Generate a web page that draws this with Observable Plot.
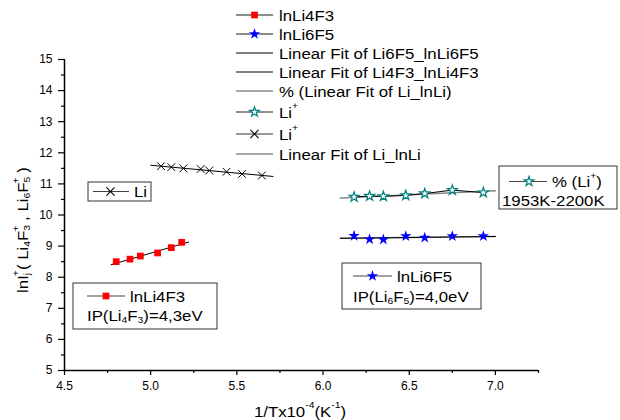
<!DOCTYPE html>
<html><head><meta charset="utf-8">
<script src="https://cdn.jsdelivr.net/npm/d3@7"></script>
<script src="https://cdn.jsdelivr.net/npm/@observablehq/plot@0.6"></script>
<style>body{margin:0;background:#fff}</style>
</head><body><div id="chart"></div>
<script>
// ---- data ----
const li4f3X = [4.80, 4.88, 4.94, 5.04, 5.12, 5.18];
const li4f3Y = [8.50, 8.58, 8.68, 8.78, 8.95, 9.12];
const li6f5X = [6.18, 6.27, 6.35, 6.48, 6.59, 6.75, 6.93];
const li6f5Y = [9.33, 9.22, 9.21, 9.32, 9.27, 9.32, 9.32];
const liPlusX = [6.18, 6.27, 6.35, 6.48, 6.59, 6.75, 6.93];
const liPlusY = [10.58, 10.61, 10.60, 10.63, 10.69, 10.80, 10.72];
const liX = [5.06, 5.12, 5.19, 5.29, 5.34, 5.44, 5.53, 5.645];
const liY = [11.57, 11.54, 11.50, 11.48, 11.43, 11.39, 11.32, 11.27];
// linear-fit end points
const fitLi4F3X = [4.77, 5.22], fitLi4F3Y = [8.40, 9.13];
const fitLiX = [5.00, 5.71], fitLiY = [11.60, 11.24];
const fitLiPlusX = [6.10, 7.00], fitLiPlusY = [10.55, 10.78];
const fitLi6F5X = [6.10, 7.00], fitLi6F5Y = [9.25, 9.31];
// ticks
const xMajor = [4.5, 5.0, 5.5, 6.0, 6.5, 7.0];
const xMinor = [4.75, 5.25, 5.75, 6.25, 6.75, 7.25];
const yMajor = [5, 6, 7, 8, 9, 10, 11, 12, 13, 14, 15];
const yMinor = [5.5, 6.5, 7.5, 8.5, 9.5, 10.5, 11.5, 12.5, 13.5, 14.5];

const pts = (xs, ys) => xs.map((x, i) => ({x, y: ys[i]}));
const FONT = "'Liberation Sans', Arial, sans-serif";
const TEAL = "#008080";

const svg = Plot.plot({
  width: 620, height: 420,
  marginLeft: 64, marginRight: 82, marginTop: 59, marginBottom: 50,
  style: {fontFamily: FONT, fontSize: "12px", color: "#000", background: "#fff"},
  x: {domain: [4.5, 7.25]},
  y: {domain: [5, 15]},
  marks: [
    Plot.axisX({ticks: xMajor, tickSize: 5, tickPadding: 6, tickFormat: d3.format(".1f"), label: null, strokeWidth: 1.2}),
    Plot.axisX({ticks: xMinor, tickSize: 3, tickFormat: () => "", label: null, strokeWidth: 1.2}),
    Plot.axisY({ticks: yMajor, tickSize: 6, tickPadding: 6, tickFormat: d => d, label: null, strokeWidth: 1.2}),
    Plot.axisY({ticks: yMinor, tickSize: 3, tickFormat: () => "", label: null, strokeWidth: 1.2}),
    Plot.ruleX([4.5], {stroke: "#000", strokeWidth: 1.5}),
    Plot.ruleY([5], {stroke: "#000", strokeWidth: 1.5}),
    // fits
    Plot.line(pts(fitLiPlusX, fitLiPlusY), {x: "x", y: "y", stroke: "#888", strokeWidth: 1.5}),
    Plot.line(pts(fitLi6F5X, fitLi6F5Y), {x: "x", y: "y", stroke: "#888", strokeWidth: 1.5}),
    Plot.line(pts(fitLi6F5X, fitLi6F5Y), {x: "x", y: "y", stroke: "#000", strokeWidth: 1}),
    Plot.line(pts(fitLi4F3X, fitLi4F3Y), {x: "x", y: "y", stroke: "#000", strokeWidth: 1}),
    Plot.line(pts(fitLiX, fitLiY), {x: "x", y: "y", stroke: "#000", strokeWidth: 1}),
    Plot.line(pts(liPlusX, liPlusY), {x: "x", y: "y", stroke: "#000", strokeWidth: 1}),
    // points
    Plot.dot(pts(li4f3X, li4f3Y), {x: "x", y: "y", symbol: "square", r: 3.8, fill: "#ff0000"}),
    Plot.dot(pts(li6f5X, li6f5Y), {x: "x", y: "y", symbol: "star", r: 3.6, fill: "#0000ff"}),
    Plot.dot(pts(liPlusX, liPlusY), {x: "x", y: "y", symbol: "star", r: 3.1, fill: "#fff", stroke: TEAL, strokeWidth: 1.2}),
    Plot.dot(pts(liX, liY), {x: "x", y: "y", symbol: "times", r: 3.6, stroke: "#000", strokeWidth: 1})
  ]
});
document.getElementById("chart").appendChild(svg);

// ---- annotations ----
const SX = 1.12;
const root = d3.select(svg).append("g").attr("font-family", FONT).attr("fill", "#000")
  .attr("text-anchor", "start");
function rich(x, y, parts, fs, opts = {}) {
  const rot = opts.rotate ? ` rotate(${opts.rotate})` : "";
  const t = root.append("text").attr("x", 0).attr("y", 0).attr("font-size", fs)
    .attr("text-anchor", opts.anchor || "start").attr("dominant-baseline", "central")
    .attr("transform", `translate(${x},${y})${rot} scale(${SX},1)`);
  let cur = 0;
  for (const p of parts) {
    const [s, m, dx] = Array.isArray(p) ? p : [p, "n", 0];
    const off = m === "sub" ? fs * 0.3 : m === "sup" ? -fs * 0.42 : 0;
    const ts = t.append("tspan").attr("dy", off - cur).text(s);
    if (dx) ts.attr("dx", dx);
    if (m !== "n") ts.attr("font-size", fs * 0.62);
    cur = off;
  }
  return t;
}
function sym(type, cx, cy, size, fill, stroke, sw) {
  root.append("path").attr("d", d3.symbol(type, size)()).attr("transform", `translate(${cx},${cy})`)
    .attr("fill", fill).attr("stroke", stroke || "none").attr("stroke-width", sw || 1);
}
function sample(x1, x2, y, color, w) {
  root.append("line").attr("x1", x1).attr("x2", x2).attr("y1", y).attr("y2", y)
    .attr("stroke", color).attr("stroke-width", w || 1.5);
}
const FS = 15;
// top legend
const rows = [15, 34, 53, 72, 91, 112, 134, 154];
const lx1 = 236, lx2 = 273, lmx = 254.5, ltx = 279;
sample(lx1, lx2, rows[0], "#666"); sym(d3.symbolSquare, lmx, rows[0], 45, "#ff0000");
rich(ltx, rows[0], ["lnLi4F3"], FS);
sample(lx1, lx2, rows[1], "#666"); sym(d3.symbolStar, lmx, rows[1], 40, "#0000ff");
rich(ltx, rows[1], ["lnLi6F5"], FS);
sample(lx1, lx2, rows[2], "#000", 1.2); rich(ltx, rows[2], ["Linear Fit of Li6F5_lnLi6F5"], FS);
sample(lx1, lx2, rows[3], "#000", 1.2); rich(ltx, rows[3], ["Linear Fit of Li4F3_lnLi4F3"], FS);
sample(lx1, lx2, rows[4], "#888"); rich(ltx, rows[4], ["% (Linear Fit of Li_lnLi)"], FS);
sample(lx1, lx2, rows[5], "#666"); sym(d3.symbolStar, lmx, rows[5], 28, "#fff", TEAL, 1.2);
rich(ltx, rows[5], ["Li", ["+", "sup"]], FS);
sample(lx1, lx2, rows[6], "#333", 1.2); sym(d3.symbolTimes, lmx, rows[6], 45, "none", "#000", 1.1);
rich(ltx, rows[6], ["Li", ["+", "sup"]], FS);
sample(lx1, lx2, rows[7], "#888"); rich(ltx, rows[7], ["Linear Fit of Li_lnLi"], FS);

function box(x, y, w, h) {
  root.append("rect").attr("x", x).attr("y", y).attr("width", w).attr("height", h)
    .attr("fill", "#fff").attr("stroke", "#333").attr("stroke-width", 1);
}
// Li box
box(88, 182, 63, 19);
sample(93, 129, 191.5, "#444", 1.2); sym(d3.symbolTimes, 110.5, 191.5, 45, "none", "#000", 1.1);
rich(134, 191.5, ["Li"], FS);
// Li+ box
box(499, 166, 118, 43);
sample(509, 547, 181.5, "#444", 1.2); sym(d3.symbolStar, 529, 181.5, 28, "#fff", TEAL, 1.2);
rich(552, 181.5, ["% (Li", ["+", "sup"], ")"], FS);
rich(502, 200.5, ["1953K-2200K"], FS);
// Li6F5 box
box(342, 263, 139, 46);
sample(353, 392, 276, "#444", 1.2); sym(d3.symbolStar, 372.5, 276, 40, "#0000ff");
rich(397, 276, ["lnLi6F5"], FS);
rich(353, 296, ["IP(Li", ["6", "sub"], "F", ["5", "sub"], ")=4,0eV"], FS);
// Li4F3 box
box(73, 283, 144, 46);
sample(87, 125, 296, "#444", 1.2); sym(d3.symbolSquare, 106, 296, 45, "#ff0000");
rich(130, 296, ["lnLi4F3"], FS);
rich(87, 315, ["IP(Li", ["4", "sub"], "F", ["3", "sub"], ")=4,3eV"], FS);

// axis labels
rich(300, 411, ["1/Tx10", ["-4", "sup"], "(K", ["-1", "sup"], ")"], FS, {anchor: "middle"});
rich(22, 230, ["lnI", ["j", "sub"], ["+", "sup", -3], "( Li", ["4", "sub"], "F", ["3", "sub"], ["+", "sup", -6], " , Li", ["6", "sub"], "F", ["5", "sub"], ["+", "sup", -6], " )"], FS,
  {anchor: "middle", rotate: -90});
</script>
</body></html>
